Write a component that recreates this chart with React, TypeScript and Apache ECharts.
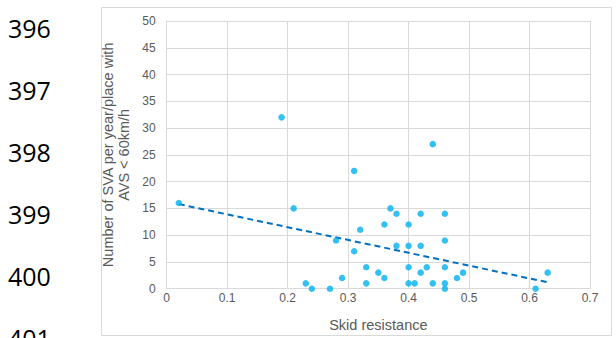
import React, { useEffect, useRef } from "react";
import * as echarts from "echarts";

const skidResistance = [
  0.02, 0.19, 0.21, 0.23, 0.24, 0.27, 0.28, 0.29, 0.31, 0.31, 0.32, 0.33, 0.33,
  0.35, 0.36, 0.36, 0.37, 0.38, 0.38, 0.40, 0.40, 0.40, 0.40, 0.41, 0.42, 0.42,
  0.42, 0.43, 0.44, 0.44, 0.46, 0.46, 0.46, 0.46, 0.46, 0.48, 0.49, 0.61, 0.63,
];
const svaCount = [
  16, 32, 15, 1, 0, 0, 9, 2, 22, 7, 11, 4, 1,
  3, 2, 12, 15, 14, 8, 12, 8, 4, 1, 1, 14, 8,
  3, 4, 27, 1, 14, 9, 4, 1, 0, 2, 3, 0, 3,
];
const trendX = [0.02, 0.63];
const trendY = [15.8, 1.2];
const xTicks = ["0", "0.1", "0.2", "0.3", "0.4", "0.5", "0.6", "0.7"];
const lineNumbers = ["396", "397", "398", "399", "400", "401"];
const lineNumberY = [27.5, 89.5, 151.7, 214, 276, 338];

export default function App() {
  const ref = useRef<HTMLDivElement>(null);
  useEffect(() => {
    document.body.style.margin = "0";
    const chart = echarts.init(ref.current!, null, { renderer: "svg" });
    const font = "Liberation Sans, Arial, sans-serif";
    chart.setOption({
      animation: false,
      backgroundColor: "#ffffff",
      grid: { left: 166.7, right: 26, top: 21, bottom: 49.3, containLabel: false },
      xAxis: {
        type: "value",
        min: 0,
        max: 0.7,
        interval: 0.1,
        name: "Skid resistance",
        nameLocation: "middle",
        nameGap: 29,
        nameTextStyle: { color: "#595959", fontSize: 14.5, fontFamily: font },
        axisLine: { show: true, lineStyle: { color: "#d9d9d9", width: 1 } },
        axisTick: { show: false },
        axisLabel: {
          color: "#595959",
          fontSize: 12,
          fontFamily: font,
          margin: 3,
          formatter: (v: number) => xTicks[Math.round(v * 10)] ?? "",
        },
        splitLine: { show: true, lineStyle: { color: "#d9d9d9", width: 1 } },
      },
      yAxis: {
        type: "value",
        min: 0,
        max: 50,
        interval: 5,
        name: "Number of SVA per year/place with\nAVS < 60km/h",
        nameLocation: "middle",
        nameRotate: 90,
        nameGap: 28,
        nameTextStyle: {
          color: "#595959",
          fontSize: 14.5,
          fontFamily: font,
          lineHeight: 15.5,
          align: "center",
        },
        axisLine: { show: true, lineStyle: { color: "#d9d9d9", width: 1 } },
        axisTick: { show: false },
        axisLabel: { color: "#595959", fontSize: 12, fontFamily: font, margin: 11 },
        splitLine: { show: true, lineStyle: { color: "#d9d9d9", width: 1 } },
      },
      graphic: [
        {
          type: "rect",
          shape: { x: 101.5, y: 7.5, width: 510, height: 328 },
          style: { fill: "none", stroke: "#d9d9d9", lineWidth: 1 },
          silent: true,
          z: -1,
        },
        ...lineNumbers.map((t, i) => ({
          type: "text",
          x: 8,
          y: lineNumberY[i],
          style: {
            text: t,
            fill: "#000000",
            font: "25px 'Open Sans', sans-serif",
            textVerticalAlign: "middle",
            verticalAlign: "middle",
          },
          silent: true,
        })),
      ],
      series: [
        {
          type: "line",
          data: trendX.map((x, i) => [x, trendY[i]]),
          showSymbol: false,
          symbol: "none",
          lineStyle: { color: "#0070C0", width: 2, type: [6, 4] },
          z: 1,
        },
        {
          type: "scatter",
          data: skidResistance.map((x, i) => [x, svaCount[i]]),
          symbol: "circle",
          symbolSize: 6.5,
          itemStyle: { color: "#00B0F0" },
          z: 2,
        },
      ],
    });
    return () => chart.dispose();
  }, []);
  return <div ref={ref} style={{ width: 616, height: 338 }} />;
}
